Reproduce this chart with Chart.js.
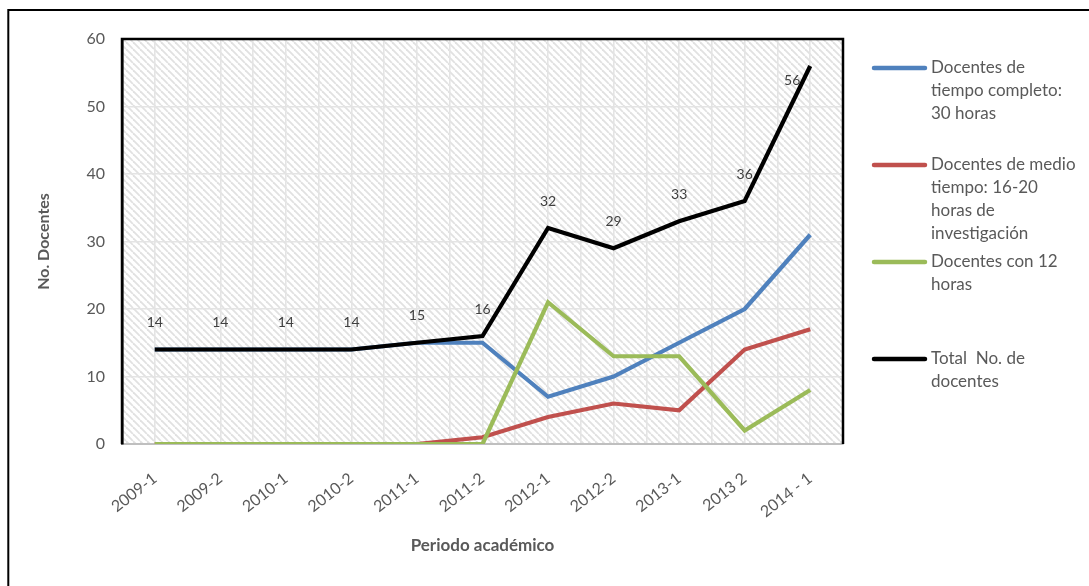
<!DOCTYPE html>
<html>
<head>
<meta charset="utf-8">
<script src="https://cdn.jsdelivr.net/npm/chart.js@4.4.1/dist/chart.umd.min.js"></script>
<style>
    html, body { margin: 0; padding: 0; background: #fff; }
    #wrap { width: 1089px; height: 586px; position: relative; }
</style>
</head>
<body>
<div id="wrap"><canvas id="docentesChart"></canvas></div>
<script>
// Data
const periods = ['2009-1', '2009-2', '2010-1', '2010-2', '2011-1', '2011-2', '2012-1', '2012-2', '2013-1', '2013 2', '2014 - 1'];
const tiempoCompleto = [14, 14, 14, 14, 15, 15, 7, 10, 15, 20, 31];
const medioTiempo = [0, 0, 0, 0, 0, 1, 4, 6, 5, 14, 17];
const doceHoras = [0, 0, 0, 0, 0, 0, 21, 13, 13, 2, 8];
const totalDocentes = [14, 14, 14, 14, 15, 16, 32, 29, 33, 36, 56];
const yTicks = [0, 10, 20, 30, 40, 50, 60];

const seriesNames = [
    ['Docentes de', 'tiempo completo:', '30 horas'],
    ['Docentes de medio', 'tiempo: 16-20', 'horas de', 'investigación'],
    ['Docentes con 12', 'horas'],
    ['Total  No. de', 'docentes']
];
const seriesColors = ['#4f81bd', '#c0504d', '#9bbb59', '#000000'];

const FONT = 'Lato, "Open Sans", sans-serif';
const TEXT = '#595959';

// Hatch pattern for the plot area
function hatch() {
    const c = document.createElement('canvas');
    c.width = 7; c.height = 7;
    const g = c.getContext('2d');
    g.fillStyle = '#ffffff';
    g.fillRect(0, 0, 7, 7);
    g.strokeStyle = '#e1e1e1';
    g.lineWidth = 1.8;
    [-7, 0, 7].forEach(k => {
        g.beginPath();
        g.moveTo(k, 0);
        g.lineTo(k + 7, 7);
        g.stroke();
    });
    return g.createPattern(c, 'repeat');
}

const plotFrame = {
    id: 'plotFrame',
    beforeDraw(chart) {
        const { ctx, chartArea: a } = chart;
        ctx.save();
        ctx.fillStyle = hatch();
        ctx.fillRect(a.left, a.top, a.right - a.left, a.bottom - a.top);
        // outer frame
        ctx.strokeStyle = '#000';
        ctx.lineWidth = 2;
        ctx.beginPath();
        ctx.moveTo(8.3, 2000);
        ctx.lineTo(8.3, 10);
        ctx.lineTo(2000, 10);
        ctx.stroke();
        ctx.restore();
    },
    afterDatasetsDraw(chart) {
        const { ctx, chartArea: a } = chart;
        ctx.save();
        ctx.strokeStyle = '#000';
        ctx.lineWidth = 2.5;
        ctx.beginPath();
        ctx.moveTo(a.left, a.bottom);
        ctx.lineTo(a.left, a.top);
        ctx.lineTo(a.right, a.top);
        ctx.lineTo(a.right, a.bottom);
        ctx.stroke();

        // value labels on the total line
        const meta = chart.getDatasetMeta(3);
        ctx.fillStyle = '#404040';
        ctx.font = '14px ' + FONT;
        ctx.textAlign = 'center';
        ctx.textBaseline = 'middle';
        meta.data.forEach((pt, i) => {
            let x = pt.x, y = pt.y - 27;
            if (i === meta.data.length - 1) { x = pt.x - 18; y = pt.y + 14; }
            ctx.fillText(totalDocentes[i], x, y);
        });
        ctx.restore();
    },
    afterDraw(chart) {
        const { ctx } = chart;
        ctx.save();
        ctx.font = '17px ' + FONT;
        ctx.textBaseline = 'middle';
        ctx.textAlign = 'left';
        seriesNames.forEach((lines, i) => {
            const y = 68 + i * 97;
            ctx.strokeStyle = seriesColors[i];
            ctx.lineWidth = 4.5;
            ctx.lineCap = 'round';
            ctx.beginPath();
            ctx.moveTo(874, y);
            ctx.lineTo(925, y);
            ctx.stroke();
            ctx.fillStyle = TEXT;
            lines.forEach((t, j) => ctx.fillText(t, 931, y + j * 23));
        });
        ctx.restore();
    }
};

const ctx = document.getElementById('docentesChart').getContext('2d');
const docentesChart = new Chart(ctx, {
    type: 'line',
    data: {
        labels: periods,
        datasets: [
            { label: seriesNames[0].join(' '), data: tiempoCompleto, borderColor: seriesColors[0], order: 4 },
            { label: seriesNames[1].join(' '), data: medioTiempo, borderColor: seriesColors[1], order: 3 },
            { label: seriesNames[2].join(' '), data: doceHoras, borderColor: seriesColors[2], order: 2 },
            { label: seriesNames[3].join(' '), data: totalDocentes, borderColor: seriesColors[3], order: 1 }
        ]
    },
    options: {
        responsive: true,
        maintainAspectRatio: false,
        animation: false,
        layout: { padding: { left: 30, right: 246, top: 39, bottom: 26 } },
        elements: {
            line: { borderWidth: 4.2, tension: 0, borderCapStyle: 'butt', borderJoinStyle: 'miter' },
            point: { radius: 0, hoverRadius: 0 }
        },
        plugins: {
            legend: { display: false },
            tooltip: { enabled: false }
        },
        scales: {
            x: {
                offset: true,
                grid: { offset: false, color: '#e4e4e4', lineWidth: 1.6, drawTicks: false },
                border: { color: '#bfbfbf', width: 2 },
                ticks: {
                    color: TEXT,
                    font: { family: FONT, size: 16 },
                    minRotation: 38,
                    maxRotation: 38,
                    padding: 25
                },
                title: {
                    display: true,
                    text: 'Periodo académico',
                    color: TEXT,
                    font: { family: FONT, size: 17, weight: 'bold' }
                },
                afterFit(scale) { scale.height = 116; }
            },
            x2: {
                position: 'bottom',
                offset: true,
                grid: { offset: true, color: '#e4e4e4', lineWidth: 1.6, drawTicks: false },
                border: { display: false },
                ticks: { display: false },
                afterFit(scale) { scale.height = 0; }
            },
            y: {
                min: 0,
                max: 60,
                afterBuildTicks(scale) { scale.ticks = yTicks.map(v => ({ value: v })); },
                grid: { color: '#e4e4e4', lineWidth: 1.6, drawTicks: false },
                border: { color: '#000', width: 2.5 },
                ticks: {
                    color: TEXT,
                    font: { family: FONT, size: 16 },
                    padding: 17
                },
                title: {
                    display: true,
                    text: 'No. Docentes',
                    color: TEXT,
                    font: { family: FONT, size: 16, weight: 'bold' }
                },
                afterFit(scale) { scale.width = 92; }
            }
        }
    },
    plugins: [plotFrame]
});
</script>
</body>
</html>
